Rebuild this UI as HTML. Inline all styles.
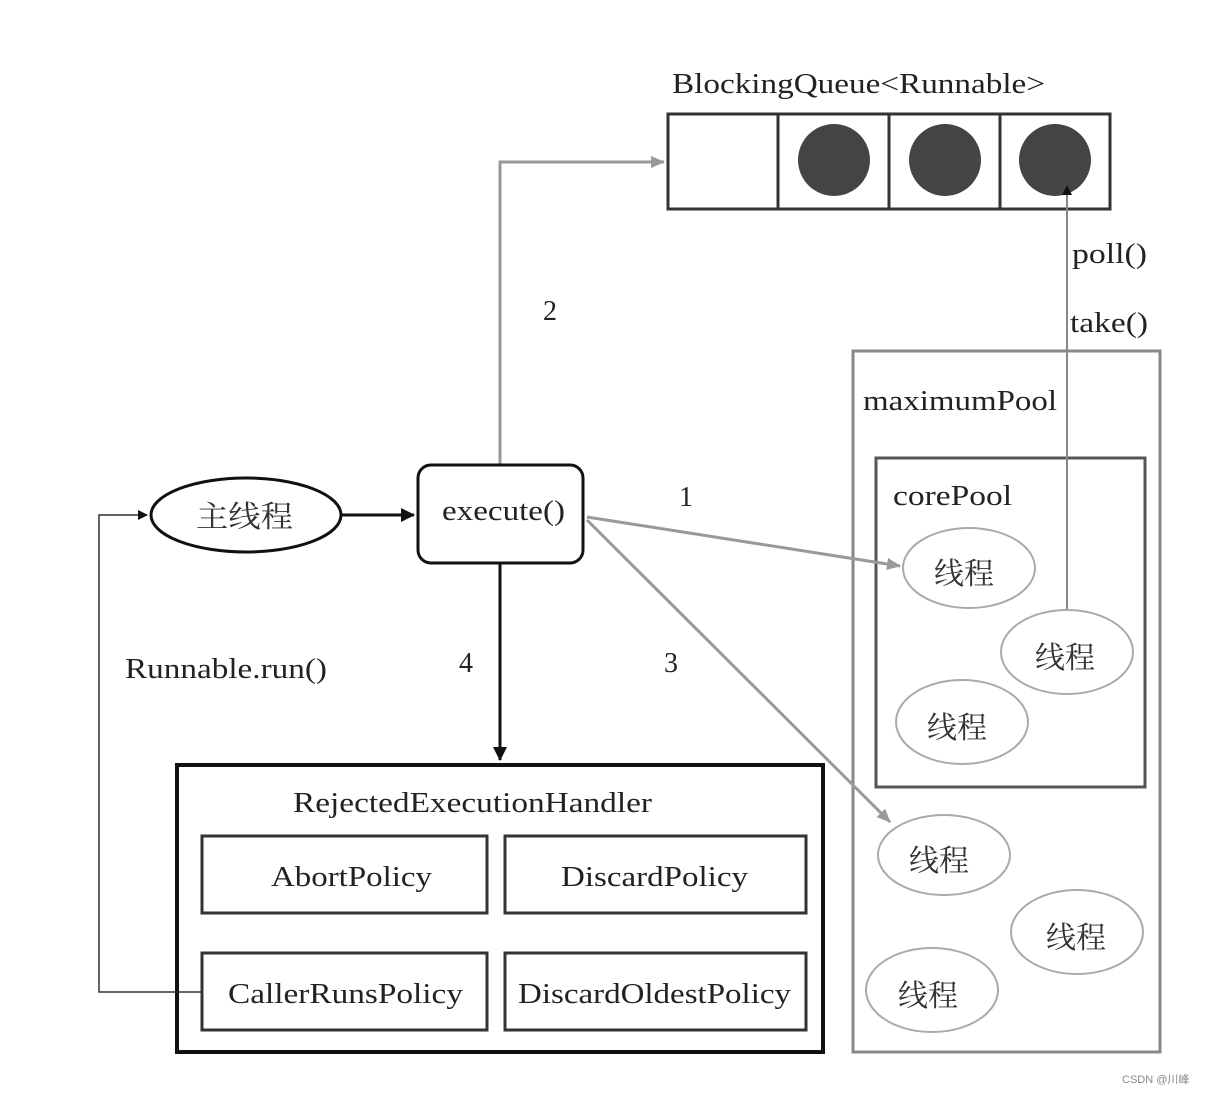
<!DOCTYPE html>
<html><head><meta charset="utf-8"><style>
html,body{margin:0;padding:0;background:#fff;}
svg{display:block;}
text{font-family:"Liberation Serif","Noto Serif CJK SC",serif;fill:#222;}
.cj{font-family:"Liberation Serif","Noto Serif CJK SC",serif;font-size:30px;fill:#333;}
</style></head><body>
<svg width="1205" height="1094" viewBox="0 0 1205 1094" xmlns="http://www.w3.org/2000/svg">
<defs>
<marker id="ab" markerWidth="10" markerHeight="10" refX="9" refY="5" orient="auto" markerUnits="userSpaceOnUse"><path d="M0,0 L10,5 L0,10 z" fill="#111"/></marker>
<marker id="ag" markerWidth="14" markerHeight="12" refX="13" refY="6" orient="auto" markerUnits="userSpaceOnUse"><path d="M0,0 L14,6 L0,12 z" fill="#999"/></marker>
<marker id="ab2" markerWidth="14" markerHeight="14" refX="13" refY="7" orient="auto" markerUnits="userSpaceOnUse"><path d="M0,0 L14,7 L0,14 z" fill="#111"/></marker>
</defs>
<text x="672" y="93" font-size="28" textLength="373" lengthAdjust="spacingAndGlyphs">BlockingQueue&lt;Runnable&gt;</text>
<rect x="668" y="114" width="442" height="95" fill="none" stroke="#333" stroke-width="3"/>
<line x1="778" y1="114" x2="778" y2="209" stroke="#333" stroke-width="3"/>
<line x1="889" y1="114" x2="889" y2="209" stroke="#333" stroke-width="3"/>
<line x1="1000" y1="114" x2="1000" y2="209" stroke="#333" stroke-width="3"/>
<circle cx="834" cy="160" r="36" fill="#444"/>
<circle cx="945" cy="160" r="36" fill="#444"/>
<circle cx="1055" cy="160" r="36" fill="#444"/>
<polyline points="500,465 500,162 664,162" fill="none" stroke="#999" stroke-width="3" marker-end="url(#ag)"/>
<text x="543" y="320" font-size="28">2</text>
<rect x="853" y="351" width="307" height="701" fill="none" stroke="#888" stroke-width="3"/>
<text x="863" y="410" font-size="28" textLength="194" lengthAdjust="spacingAndGlyphs">maximumPool</text>
<rect x="876" y="458" width="269" height="329" fill="none" stroke="#555" stroke-width="3"/>
<text x="893" y="505" font-size="28" textLength="119" lengthAdjust="spacingAndGlyphs">corePool</text>
<line x1="1067" y1="612" x2="1067" y2="186" stroke="#888" stroke-width="2" marker-end="url(#ab)"/>
<text x="1072" y="263" font-size="28" textLength="75" lengthAdjust="spacingAndGlyphs">poll()</text>
<text x="1070" y="332" font-size="28" textLength="78" lengthAdjust="spacingAndGlyphs">take()</text>
<g fill="#fff" stroke="#aaa" stroke-width="2">
<ellipse cx="969" cy="568" rx="66" ry="40"/>
<ellipse cx="1067" cy="652" rx="66" ry="42"/>
<ellipse cx="962" cy="722" rx="66" ry="42"/>
<ellipse cx="944" cy="855" rx="66" ry="40"/>
<ellipse cx="1077" cy="932" rx="66" ry="42"/>
<ellipse cx="932" cy="990" rx="66" ry="42"/>
</g>
<text class="cj" x="934" y="584">线程</text>
<text class="cj" x="1035" y="668">线程</text>
<text class="cj" x="927" y="738">线程</text>
<text class="cj" x="909" y="871">线程</text>
<text class="cj" x="1046" y="948">线程</text>
<text class="cj" x="898" y="1006">线程</text>
<ellipse cx="246" cy="515" rx="95" ry="37" fill="#fff" stroke="#111" stroke-width="3"/>
<text class="cj" x="196" y="527" style="fill:#333" textLength="97" lengthAdjust="spacingAndGlyphs">主线程</text>
<line x1="342" y1="515" x2="414" y2="515" stroke="#111" stroke-width="3" marker-end="url(#ab2)"/>
<rect x="418" y="465" width="165" height="98" rx="13" fill="#fff" stroke="#111" stroke-width="3"/>
<text x="442" y="520" font-size="28" textLength="123" lengthAdjust="spacingAndGlyphs">execute()</text>
<line x1="587" y1="517" x2="900" y2="566" stroke="#999" stroke-width="3" marker-end="url(#ag)"/>
<text x="679" y="506" font-size="28">1</text>
<line x1="587" y1="520" x2="890" y2="822" stroke="#999" stroke-width="3" marker-end="url(#ag)"/>
<text x="664" y="672" font-size="28">3</text>
<line x1="500" y1="563" x2="500" y2="760" stroke="#111" stroke-width="3" marker-end="url(#ab2)"/>
<text x="459" y="672" font-size="28">4</text>
<text x="125" y="678" font-size="28" textLength="202" lengthAdjust="spacingAndGlyphs">Runnable.run()</text>
<rect x="177" y="765" width="646" height="287" fill="none" stroke="#111" stroke-width="4"/>
<text x="293" y="812" font-size="28" textLength="359" lengthAdjust="spacingAndGlyphs">RejectedExecutionHandler</text>
<g fill="none" stroke="#333" stroke-width="3">
<rect x="202" y="836" width="285" height="77"/>
<rect x="505" y="836" width="301" height="77"/>
<rect x="202" y="953" width="285" height="77"/>
<rect x="505" y="953" width="301" height="77"/>
</g>
<text x="271" y="886" font-size="28" textLength="161" lengthAdjust="spacingAndGlyphs">AbortPolicy</text>
<text x="561" y="886" font-size="28" textLength="187" lengthAdjust="spacingAndGlyphs">DiscardPolicy</text>
<text x="228" y="1003" font-size="28" textLength="235" lengthAdjust="spacingAndGlyphs">CallerRunsPolicy</text>
<text x="518" y="1003" font-size="28" textLength="273" lengthAdjust="spacingAndGlyphs">DiscardOldestPolicy</text>
<polyline points="202,992 99,992 99,515 147,515" fill="none" stroke="#333" stroke-width="1.5" marker-end="url(#ab)"/>
<text x="1122" y="1083" font-size="11" style="font-family:'Liberation Sans','Noto Sans CJK SC',sans-serif;fill:#888">CSDN @川峰</text>
</svg>
</body></html>
